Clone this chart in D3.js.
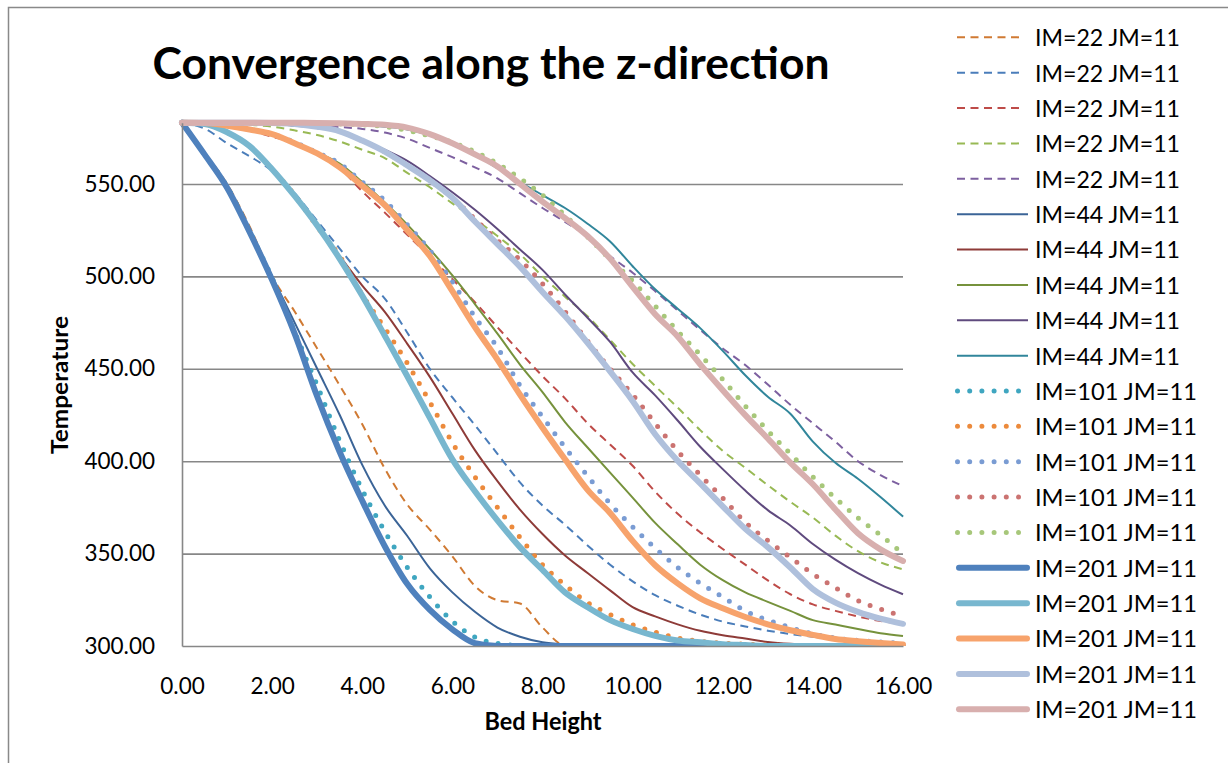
<!DOCTYPE html>
<html>
<head>
<meta charset="utf-8">
<script src="https://cdn.jsdelivr.net/npm/d3@7"></script>
<style>
	body { margin: 0; background: #fff; }
	text { font-family: Lato, "Open Sans", sans-serif; fill: #000; }
</style>
</head>
<body>
<div id="chart"></div>
<script>
// bed height positions (x), one value every 0.5
const bedHeight = [0, 0.5, 1, 1.5, 2, 2.5, 3, 3.5, 4, 4.5, 5, 5.5, 6, 6.5, 7, 7.5, 8,
	8.5, 9, 9.5, 10, 10.5, 11, 11.5, 12, 12.5, 13, 13.5, 14, 14.5, 15, 15.5, 16];

// IM=22 (dashed)
const im22_1 = [583.15, 567, 550, 527, 500, 481, 461, 441, 420, 396, 376.5, 363, 348.5, 332.5, 324.8, 323, 310,
	300.3, 300, 300, 300, 300, 300, 300, 300, 300, 300, 300, 300, 300, 300, 300, 300];
const im22_2 = [583.15, 580, 572, 565, 557, 545, 530, 515, 500, 488, 469.5, 450, 434.5, 419.5, 404, 388.5, 376,
	365.6, 354.4, 344, 335, 327.5, 321.8, 317, 313.2, 310.6, 308.3, 306.5, 305, 303.8, 303, 302.3, 301.6];
const im22_3 = [583.15, 583, 581.8, 579, 575.5, 572.5, 566, 558.5, 546, 534.5, 522.5, 510.7, 498.5, 486, 472.5, 459, 446,
	434, 420.5, 409, 397.5, 383.5, 371.5, 361.5, 352.5, 344, 335.5, 328, 322.5, 319, 316, 313.5, 312];
const im22_4 = [583.15, 583.1, 582.8, 582, 581, 579, 576.5, 573, 568.5, 564, 556, 548.2, 539.5, 531, 521.8, 512, 500,
	489, 478.4, 465.6, 452.6, 440.7, 429, 416.8, 405.6, 396.4, 387, 378, 369.5, 359.7, 351.3, 345.3, 341.5];
const im22_5 = [583.15, 583.1, 583, 582.8, 582.5, 582, 581.5, 580.8, 579.8, 577.8, 574.5, 569.5, 564.5, 559, 553, 545, 537,
	529.5, 521.5, 511, 502, 492, 481.5, 471, 461, 452, 441.5, 430.5, 420.5, 410.5, 400, 392.5, 386.5];

// IM=44 (thin solid)
const im44_1 = [583.15, 566, 549, 525, 500, 475, 450, 425, 398, 376, 359.5, 342, 329, 318.5, 310, 305, 302,
	300.8, 300.3, 300, 300, 300, 300, 300, 300, 300, 300, 300, 300, 300, 300, 300, 300];
const im44_2 = [583.15, 582.5, 578, 570.5, 558, 544, 527.5, 511, 495, 480.8, 463.5, 445.6, 425.8, 406, 389.2, 373.8, 360.6,
	349, 339.5, 330.1, 321, 316, 311.7, 308.2, 305.8, 304, 302.2, 301.2, 300.7, 300.4, 300.2, 300, 300];
const im44_3 = [583.15, 583, 581.5, 579.5, 577, 572.5, 567, 561, 551, 540, 528, 514.7, 500.5, 485, 469, 452.3, 437.4,
	421.2, 407.4, 393.8, 380.3, 366.6, 355, 344, 335.6, 329, 323.9, 319, 314, 311.6, 309.2, 306.9, 305.4];
const im44_4 = [583.15, 583.15, 583.1, 583, 582.5, 581.5, 580.5, 578.5, 574, 568.5, 562.5, 554.3, 545.5, 536, 525.6, 514.6, 503.5,
	490.2, 477.6, 464.5, 448, 435.6, 422, 407.8, 395.7, 384.1, 373.5, 365.2, 355.2, 346.7, 339.4, 333.2, 328];
const im44_5 = [583.15, 583.15, 583.15, 583.15, 583.1, 583, 582.8, 582.5, 582, 581, 579.5, 576.5, 572.5, 566, 558.5, 551, 544,
	537, 528.5, 518.9, 505.5, 493, 482.5, 472, 459.7, 446.5, 434.9, 425.7, 410.6, 399.1, 390.5, 380.6, 370];

// IM=101 (round dots)
const im101_1 = [583.15, 566, 548.5, 524.5, 499, 470, 441, 411, 384.5, 362, 342.5, 326.5, 313.5, 304.8, 301.4, 300.2, 300,
	300, 300, 300, 300, 300, 300, 300, 300, 300, 300, 300, 300, 300, 300, 300, 300];
const im101_2 = [583.15, 582.5, 578, 570.5, 558, 544, 527, 511, 490, 472, 453, 432, 410, 391.5, 375, 358.8, 344,
	333, 323.5, 317, 311.5, 307.5, 304.3, 302.6, 301.5, 301, 300.5, 300.2, 300, 300, 300, 300, 300];
const im101_3 = [583.15, 583, 581.5, 579.5, 577, 572.5, 567, 561, 551, 541, 528, 514, 497, 478, 461.5, 441, 424,
	407.5, 392, 377, 364.5, 353, 342.5, 334, 326.5, 319, 314, 310, 306.5, 304.3, 303, 302.2, 301.5];
const im101_4 = [583.15, 583.15, 583.15, 583.1, 583, 582.5, 581, 578.5, 573.5, 567.5, 560, 552, 542.5, 531, 519.5, 509, 496,
	481, 465, 450, 436, 420.5, 405.5, 392.5, 380, 367, 357, 348, 339, 331.5, 324.5, 320, 316];
const im101_5 = [583.15, 583.15, 583.15, 583.15, 583.1, 583, 582.8, 582.5, 582, 581, 579, 576, 572.5, 567.5, 561, 553, 544,
	533, 521.4, 509.3, 497.5, 484, 470.3, 457.6, 444.2, 429.9, 416.5, 404, 391.5, 380, 369.3, 360, 350];

// IM=201 (thick solid)
const im201_1 = [583.15, 566, 548, 524, 498, 469, 435, 405, 378.6, 354, 333.5, 319.5, 309, 301.5, 300, 300, 300,
	300, 300, 300, 300, 300, 300, 300, 300, 300, 300, 300, 300, 300, 300, 300, 300];
const im201_2 = [583.15, 582.5, 578, 570.5, 558, 543.5, 527.5, 509.5, 489.5, 467.9, 446, 423.4, 401, 383.7, 368, 353.5, 341.2,
	329, 321, 314, 309.2, 305.5, 303, 302, 301, 300.5, 300, 300, 300, 300, 300, 300, 300];
const im201_3 = [583.15, 583, 581.5, 579.5, 577, 572, 566.5, 559, 549, 538.5, 525, 511, 492, 472.6, 455, 436, 418.1,
	401, 384.5, 372, 356.9, 343.7, 333.9, 325.8, 320.4, 315.7, 311.7, 308.5, 306, 303.8, 302.6, 301.6, 300.8];
const im201_4 = [583.15, 583.15, 583.15, 583.1, 583, 582.5, 581, 578.5, 573.5, 567.5, 560, 552, 542.5, 529.7, 517.5, 505.3, 491.6,
	478.5, 464, 448.6, 432.6, 414.6, 400.2, 388, 375.6, 363.4, 353.5, 342.5, 330.8, 323.5, 318.5, 314.8, 312];
const im201_5 = [583.15, 583.15, 583.15, 583.15, 583.15, 583.1, 583, 582.8, 582.5, 582, 580.5, 577, 572, 566, 559.5, 550, 540.5,
	531.5, 521.8, 509.6, 494.3, 479.5, 467.5, 452.4, 438.4, 424.9, 412.3, 399.2, 387.5, 373.9, 361, 352.3, 346];

const yTicks = [300, 350, 400, 450, 500, 550];
const xTicks = [0, 2, 4, 6, 8, 10, 12, 14, 16];

const colors22 = ["#D07A33", "#4A7DBA", "#BE4B48", "#98B954", "#7D60A0"];
const colors44 = ["#3B6497", "#8E3B38", "#76923C", "#5F4A7E", "#31869B"];
const colors101 = ["#3FA6C0", "#EC8A3C", "#7A9CD3", "#CB7371", "#A7C77A"];
const colors201 = ["#4F81BD", "#78B7CF", "#F7A36C", "#AFC0DC", "#D8AFAE"];

let series = [];
[im22_1, im22_2, im22_3, im22_4, im22_5].forEach((v, i) => series.push({ name: "IM=22 JM=11", values: v, kind: "dash", color: colors22[i] }));
[im44_1, im44_2, im44_3, im44_4, im44_5].forEach((v, i) => series.push({ name: "IM=44 JM=11", values: v, kind: "thin", color: colors44[i] }));
[im101_1, im101_2, im101_3, im101_4, im101_5].forEach((v, i) => series.push({ name: "IM=101 JM=11", values: v, kind: "dot", color: colors101[i] }));
[im201_1, im201_2, im201_3, im201_4, im201_5].forEach((v, i) => series.push({ name: "IM=201 JM=11", values: v, kind: "thick", color: colors201[i] }));

// line look per kind
const styles = {
	dash:  { width: 2, dash: "8 5.5", cap: "butt" },
	thin:  { width: 2, dash: null, cap: "butt" },
	dot:   { width: 5, dash: "0 12.2", cap: "round" },
	thick: { width: 6, dash: null, cap: "round" }
};

// (window.top is reserved, so the plot box gets its own names)
var W = 1228, H = 763,
	plotL = 182, plotR = 903, plotT = 122.7, plotB = 646;

let svg = d3.select("#chart")
			.append("svg")
			.attr("width", W)
			.attr("height", H);

// chart area border
svg.append("rect")
   .attr("x", 8.5).attr("y", 7.5)
   .attr("width", 1240).attr("height", 800)
   .attr("fill", "none")
   .attr("stroke", "#898989")
   .attr("stroke-width", 1.5);

let xScale = d3.scaleLinear().domain([0, 16]).range([plotL, plotR]);
let yScale = d3.scaleLinear().domain([300, 583.15]).range([plotB, plotT]);

// gridlines
svg.append("g")
   .attr("class", "grid")
   .attr("transform", "translate(" + plotL + ",0)")
   .call(d3.axisLeft(yScale).tickValues(yTicks.filter(d => d > 300)).tickSize(-(plotR - plotL)).tickFormat(""))
   .call(g => g.select(".domain").remove())
   .call(g => g.selectAll("line").attr("stroke", "#878787").attr("stroke-width", 1.6));

svg.append("defs").append("clipPath")
   .attr("id", "plotclip")
   .append("rect")
   .attr("x", 0).attr("y", 0)
   .attr("width", W).attr("height", plotB);

let line = d3.line()
			 .x((d, i) => xScale(bedHeight[i]))
			 .y(d => yScale(d))
			 .curve(d3.curveMonotoneX);

svg.append("g")
   .attr("clip-path", "url(#plotclip)")
   .selectAll("path")
   .data(series)
   .enter()
   .append("path")
   .attr("d", d => line(d.values))
   .attr("fill", "none")
   .attr("stroke", d => d.color)
   .attr("stroke-width", d => styles[d.kind].width)
   .attr("stroke-dasharray", d => styles[d.kind].dash)
   .attr("stroke-linecap", d => styles[d.kind].cap)
   .attr("stroke-linejoin", "round");

// axes
let yAxis = svg.append("g")
			   .attr("transform", "translate(" + plotL + ",0)")
			   .call(d3.axisLeft(yScale).tickValues(yTicks).tickFormat(d3.format(".2f")).tickSize(0).tickPadding(27));

let xAxis = svg.append("g")
			   .attr("transform", "translate(0," + plotB + ")")
			   .call(d3.axisBottom(xScale).tickValues(xTicks).tickFormat(d3.format(".2f")).tickSize(0).tickPadding(32));

[yAxis, xAxis].forEach(g => {
	g.select(".domain").attr("stroke", "#878787").attr("stroke-width", 1.6);
	g.selectAll("text").attr("font-family", "Lato, sans-serif").attr("font-size", 22.5).attr("fill", "#000");
});

// titles
svg.append("text")
   .attr("x", 491).attr("y", 79)
   .attr("text-anchor", "middle")
   .attr("font-weight", "bold")
   .attr("font-size", 44)
   .attr("textLength", 677)
   .attr("lengthAdjust", "spacingAndGlyphs")
   .text("Convergence along the z-direction");

svg.append("text")
   .attr("x", 543).attr("y", 730)
   .attr("text-anchor", "middle")
   .attr("font-weight", "bold")
   .attr("font-size", 24)
   .attr("textLength", 117)
   .attr("lengthAdjust", "spacingAndGlyphs")
   .text("Bed Height");

svg.append("text")
   .attr("transform", "translate(68,385) rotate(-90)")
   .attr("text-anchor", "middle")
   .attr("font-weight", "bold")
   .attr("font-size", 23)
   .attr("textLength", 138)
   .attr("lengthAdjust", "spacingAndGlyphs")
   .text("Temperature");

// legend
let legend = svg.append("g")
				.selectAll("g")
				.data(series)
				.enter()
				.append("g")
				.attr("transform", (d, i) => "translate(0," + (37.3 + i * 35.37) + ")");

legend.append("line")
	  .attr("x1", d => d.kind == "dot" ? 957.5 : (d.kind == "thick" ? 959 : 957))
	  .attr("x2", d => d.kind == "dot" ? 1019 : (d.kind == "thick" ? 1027 : (d.kind == "dash" ? 1020.5 : 1028)))
	  .attr("y1", 0).attr("y2", 0)
	  .attr("stroke", d => d.color)
	  .attr("stroke-width", d => styles[d.kind].width)
	  .attr("stroke-dasharray", d => styles[d.kind].dash)
	  .attr("stroke-linecap", d => styles[d.kind].cap);

legend.append("text")
	  .attr("x", 1035)
	  .attr("y", 0)
	  .attr("dy", "0.37em")
	  .attr("font-size", 24)
	  .attr("textLength", d => d.kind == "dot" || d.kind == "thick" ? 162 : 145)
	  .attr("lengthAdjust", "spacingAndGlyphs")
	  .text(d => d.name);
</script>
</body>
</html>
